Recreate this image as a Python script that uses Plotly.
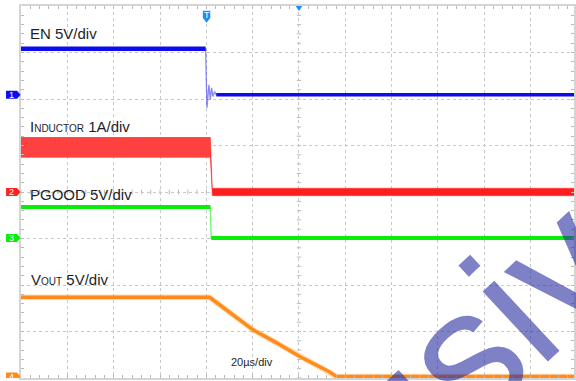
import plotly.graph_objects as go

# ---- scope settings -------------------------------------------------------
TIME_PER_DIV = 20.0          # µs/div
T_LEFT = -80.0               # µs at left edge of the graticule
DIV_PX = 46.5                # pixel size of one division
PLOT_W, PLOT_H = 555, 372    # graticule size in pixels
T_RIGHT = T_LEFT + PLOT_W / DIV_PX * TIME_PER_DIV

# channel: (volts-or-amps per div, ground offset in divisions)
CH_SCALE = {1: 5.0, 2: 1.0, 3: 5.0, 4: 5.0}
CH_OFFSET = {1: 2.09, 2: 0.0, 3: -0.99, 4: -3.97}
CH_COLOR = {1: "rgb(12,12,238)", 2: "rgb(255,32,32)", 3: "rgb(10,236,10)", 4: "rgb(255,140,26)"}

# ---- captured waveforms ---------------------------------------------------
# CH1: EN (V)
en_t = [-80.0, -0.3, 0.26, 1.12, 1.72, 2.28, 2.84, 3.57, 4.3, 160.0]
en_v = [4.95, 4.95, -1.4, 1.08, -0.54, 0.75, -0.18, 0.36, 0.0, 0.0]

# CH2: inductor current (A), ripple envelope
il_t = [-80.0, 1.72, 2.58, 160.0]
il_peak = [1.17, 1.17, 0.08, 0.08]
il_valley = [0.75, 0.75, -0.08, -0.08]

# CH3: PGOOD (V)
pg_t = [-80.0, 1.72, 2.1, 160.0]
pg_v = [3.33, 3.33, 0.0, 0.0]

# CH4: VOUT (V)
vo_t = [-80.0, 1.42, 20.0, 29.8, 40.1, 47.0, 52.7, 56.3, 160.0]
vo_v = [8.53, 8.53, 5.05, 3.71, 2.18, 1.29, 0.57, 0.0, 0.0]

GRID = "rgb(200,200,200)"
FRAME = "rgb(212,212,212)"
TICK = "rgb(185,185,185)"
TEXT = "rgb(30,30,40)"
LABEL_FONT = "Liberation Sans, Arial, sans-serif"


def ch_range(ch):
    s, o = CH_SCALE[ch], CH_OFFSET[ch]
    return [(-4 - o) * s, (4 - o) * s]


fig = go.Figure()

# CH1 EN: thin edge trace, thick steady levels
fig.add_trace(go.Scatter(x=en_t, y=en_v, yaxis="y2", mode="lines",
                         line=dict(color="rgba(40,40,240,0.55)", width=1.3)))
fig.add_trace(go.Scatter(x=en_t[:2], y=en_v[:2], yaxis="y2", mode="lines",
                         line=dict(color=CH_COLOR[1], width=4.5)))
fig.add_trace(go.Scatter(x=en_t[-2:], y=en_v[-2:], yaxis="y2", mode="lines",
                         line=dict(color=CH_COLOR[1], width=3.5)))

# CH2 inductor current: ripple band
fig.add_trace(go.Scatter(x=il_t, y=il_valley, yaxis="y3", mode="lines",
                         line=dict(color="rgba(255,40,40,0.6)", width=0.8)))
fig.add_trace(go.Scatter(x=il_t, y=il_peak, yaxis="y3", mode="lines",
                         line=dict(color="rgba(255,40,40,0.6)", width=0.8),
                         fill="tonexty", fillcolor="rgb(255,30,30)"))
fig.add_trace(go.Scatter(x=il_t[:2], y=il_valley[:2], yaxis="y3", mode="lines",
                         line=dict(width=0)))
fig.add_trace(go.Scatter(x=il_t[:2], y=il_peak[:2], yaxis="y3", mode="lines",
                         line=dict(color="rgb(255,70,70)", width=0.5),
                         fill="tonexty", fillcolor="rgb(255,64,64)",
                         fillpattern=dict(shape="|", fgcolor="rgb(255,92,92)",
                                          bgcolor="rgb(255,60,60)", size=2, solidity=0.3)))

# CH3 PGOOD
fig.add_trace(go.Scatter(x=pg_t, y=pg_v, yaxis="y4", mode="lines",
                         line=dict(color="rgba(20,235,20,0.6)", width=1.3)))
fig.add_trace(go.Scatter(x=pg_t[:2], y=pg_v[:2], yaxis="y4", mode="lines",
                         line=dict(color=CH_COLOR[3], width=4)))
fig.add_trace(go.Scatter(x=pg_t[-2:], y=pg_v[-2:], yaxis="y4", mode="lines",
                         line=dict(color=CH_COLOR[3], width=4)))

# CH4 VOUT (soft halo for noise + core line)
fig.add_trace(go.Scatter(x=vo_t, y=vo_v, yaxis="y5", mode="lines",
                         line=dict(color="rgba(255,150,40,0.35)", width=5.5)))
fig.add_trace(go.Scatter(x=vo_t, y=vo_v, yaxis="y5", mode="lines",
                         line=dict(color=CH_COLOR[4], width=3.5)))

# ---- graticule centre-axis tick marks ---------------------------------------
shapes = []
t_center = T_LEFT + 6 * TIME_PER_DIV
n_minor_x = int((T_RIGHT - T_LEFT) / (TIME_PER_DIV / 5)) + 1
for i in range(n_minor_x):
    t = T_LEFT + i * TIME_PER_DIV / 5
    shapes.append(dict(type="line", xref="x", yref="y", x0=t, x1=t, y0=-0.05, y1=0.05,
                       layer="below", line=dict(color=TICK, width=1)))
for i in range(41):
    d = -4 + i * 0.2
    shapes.append(dict(type="line", xref="x", yref="y", x0=t_center - 0.9, x1=t_center + 0.9,
                       y0=d, y1=d, layer="below", line=dict(color=TICK, width=1)))

# channel ground markers on the left edge
annotations = []
bx0, bx1, tip = -15 / PLOT_W, -4 / PLOT_W, -0.5 / PLOT_W
hh = 4 / DIV_PX
for ch in (1, 2, 3, 4):
    o = CH_OFFSET[ch]
    path = (f"M {bx0} {o - hh} L {bx1} {o - hh} L {tip} {o} L {bx1} {o + hh} "
            f"L {bx0} {o + hh} Z")
    shapes.append(dict(type="path", xref="paper", yref="y", path=path,
                       fillcolor=CH_COLOR[ch], line=dict(width=0)))
    annotations.append(dict(xref="paper", yref="y", x=(bx0 + bx1) / 2, y=o, text=str(ch),
                            showarrow=False, xanchor="center", yanchor="middle",
                            font=dict(family="Liberation Sans", size=9, color="white")))

# trigger position marker "T" and horizontal position marker
trig_blue = "rgb(30,140,250)"
shapes.append(dict(type="path", xref="x", yref="y",
                   path="M -1.5 3.9 L 1.7 3.9 L 1.7 3.74 L 0.1 3.64 L -1.5 3.74 Z",
                   fillcolor=trig_blue, line=dict(width=0)))
annotations.append(dict(x=0.1, y=3.8, xref="x", yref="y", text="T", showarrow=False,
                        font=dict(family="Liberation Sans", size=9, color="white")))
shapes.append(dict(type="path", xref="x", yref="y",
                   path=f"M {t_center - 1.4} 4.0 L {t_center + 1.4} 4.0 L {t_center} 3.89 Z",
                   fillcolor=trig_blue, line=dict(width=0)))

# channel labels
small = "<span style='font-size:10px'>"
labels = [
    ("EN 5V/div", -76.8, 3.40, 15),
    ("I" + small + "NDUCTOR</span> 1A/div", -76.8, 1.40, 15),
    ("PGOOD 5V/div", -76.8, -0.06, 15),
    ("V" + small + "OUT</span> 5V/div", -76.4, -1.88, 15),
    ("20µs/div", 9.6, -3.66, 11),
]
for txt, x, y, size in labels:
    annotations.append(dict(x=x, y=y, xref="x", yref="y", text=txt, showarrow=False,
                            xanchor="left", yanchor="middle",
                            font=dict(family=LABEL_FONT, size=size, color=TEXT)))

# watermark
annotations.append(dict(xref="paper", yref="paper", x=0.672, y=-0.113, text="exclusive",
                        showarrow=False, textangle=-43, xanchor="center", yanchor="middle",
                        font=dict(family="Liberation Sans", size=181,
                                  color="rgba(40,45,160,0.6)")))

axis_common = dict(showticklabels=False, zeroline=False, showline=True, linecolor=FRAME,
                   linewidth=1.5, mirror="ticks", ticks="inside", ticklen=3,
                   tickcolor=TICK, showgrid=True, gridcolor=GRID,
                   griddash="dot", gridwidth=1)

layout = dict(
    width=576, height=381,
    margin=dict(l=21, r=0, t=6, b=3),
    paper_bgcolor="white", plot_bgcolor="white",
    showlegend=False,
    xaxis=dict(range=[T_LEFT, T_RIGHT], dtick=TIME_PER_DIV, tick0=0,
               minor=dict(dtick=TIME_PER_DIV / 5, ticks="inside", ticklen=3,
                          tickcolor=TICK, showgrid=False),
               **axis_common),
    yaxis=dict(range=[-4, 4], dtick=1, tick0=0,
               minor=dict(dtick=0.2, ticks="inside", ticklen=3,
                          tickcolor=TICK, showgrid=False),
               **axis_common),
    shapes=shapes,
    annotations=annotations,
)
for i, ch in enumerate((1, 2, 3, 4), start=2):
    layout[f"yaxis{i}"] = dict(range=ch_range(ch), overlaying="y", visible=False)

fig.update_layout(**layout)
fig.write_html("out.html")
